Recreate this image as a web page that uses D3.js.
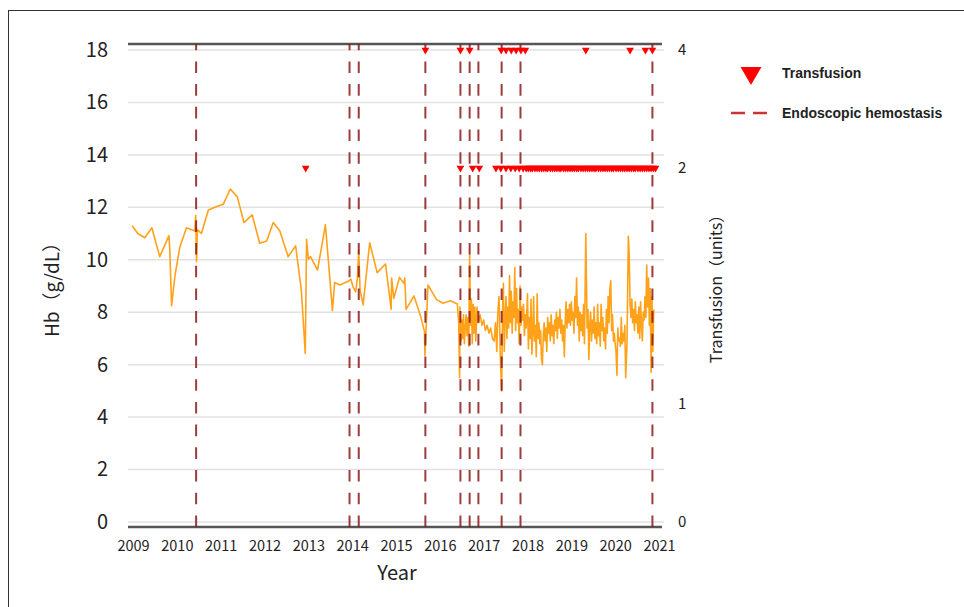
<!DOCTYPE html>
<html>
<head>
<meta charset="utf-8">
<script src="https://cdn.jsdelivr.net/npm/d3@7"></script>
<style>
  body { margin: 0; background: #fff; }
  svg text { fill: #222; }
  .axis text { font-family: "Noto Sans CJK JP", "Noto Sans", sans-serif; }
  .title { font-family: "Noto Sans CJK JP", "Noto Sans", sans-serif; }
  .legend text { font-family: "Liberation Sans", Arial, sans-serif; font-weight: bold; font-size: 14px; }
</style>
</head>
<body>
<div id="chart"></div>
<script>
// Hb measurements: [decimal year, g/dL]
var hbSeries = [
  [2008.98, 11.3], [2009.11, 11.0], [2009.27, 10.84], [2009.43, 11.22], [2009.61, 10.12],
  [2009.82, 10.92], [2009.84, 10.37], [2009.88, 8.25], [2009.96, 9.42], [2010.07, 10.5],
  [2010.22, 11.22], [2010.41, 11.1], [2010.43, 11.7], [2010.45, 9.93], [2010.47, 11.15],
  [2010.56, 11.0], [2010.72, 11.9], [2010.91, 12.03], [2011.06, 12.12], [2011.22, 12.7],
  [2011.38, 12.4], [2011.53, 11.42], [2011.72, 11.71], [2011.89, 10.63], [2012.05, 10.72],
  [2012.2, 11.42], [2012.35, 11.1], [2012.54, 10.12], [2012.71, 10.53], [2012.84, 8.85],
  [2012.93, 6.43], [2012.96, 10.78], [2013.0, 10.02], [2013.05, 10.12], [2013.21, 9.61],
  [2013.39, 11.33], [2013.55, 8.06], [2013.6, 9.13], [2013.72, 9.04], [2013.9, 9.17],
  [2013.97, 9.26], [2014.02, 8.97], [2014.08, 8.78], [2014.12, 9.3], [2014.15, 10.37],
  [2014.18, 8.85], [2014.25, 8.28], [2014.4, 10.65], [2014.57, 9.51], [2014.76, 9.84],
  [2014.89, 8.11], [2014.9, 9.3], [2014.95, 8.53], [2015.08, 9.33], [2015.18, 9.1],
  [2015.2, 9.3], [2015.23, 8.11], [2015.41, 8.62], [2015.56, 7.86], [2015.65, 7.26],
  [2015.66, 6.35], [2015.73, 9.04], [2015.92, 8.49], [2016.07, 8.34], [2016.24, 8.44],
  [2016.4, 8.31], [2016.43, 7.6], [2016.45, 5.5], [2016.46, 8.2], [2016.48, 6.9],
  [2016.5, 7.7], [2016.52, 7.0], [2016.54, 7.9], [2016.56, 6.8], [2016.58, 7.4],
  [2016.6, 7.9], [2016.62, 7.1], [2016.64, 7.8], [2016.66, 6.7], [2016.68, 10.2],
  [2016.7, 7.5], [2016.72, 8.5], [2016.74, 6.8], [2016.76, 8.3], [2016.78, 7.2],
  [2016.8, 8.2], [2016.82, 6.9], [2016.85, 8.2], [2016.88, 7.6], [2016.92, 7.9],
  [2016.96, 7.5], [2017.0, 7.7], [2017.04, 7.3], [2017.08, 7.5], [2017.12, 7.2],
  [2017.16, 7.4], [2017.2, 7.0], [2017.24, 6.9], [2017.27, 7.6], [2017.3, 6.5],
  [2017.32, 7.9], [2017.35, 8.6], [2017.38, 6.3], [2017.41, 5.0], [2017.43, 8.0],
  [2017.45, 9.1], [2017.47, 6.5], [2017.49, 7.8], [2017.51, 8.6], [2017.53, 7.0],
  [2017.55, 8.2], [2017.57, 7.4], [2017.59, 9.4], [2017.61, 7.6], [2017.63, 8.8],
  [2017.65, 7.2], [2017.67, 8.4], [2017.69, 7.8], [2017.71, 9.7], [2017.73, 7.3],
  [2017.75, 8.9], [2017.77, 7.6], [2017.79, 8.1], [2017.81, 6.8], [2017.83, 9.0],
  [2017.85, 7.5], [2017.87, 8.2], [2017.89, 7.7], [2017.91, 8.3], [2017.93, 7.1],
  [2017.95, 7.9], [2017.97, 7.4], [2018.0, 8.7], [2018.02, 6.6], [2018.04, 7.8],
  [2018.06, 7.0], [2018.08, 8.5], [2018.1, 6.4], [2018.12, 7.2], [2018.14, 8.6],
  [2018.16, 6.9], [2018.18, 7.5], [2018.2, 6.3], [2018.22, 8.7], [2018.24, 7.0],
  [2018.26, 7.6], [2018.28, 6.8], [2018.3, 7.3], [2018.32, 6.2], [2018.34, 6.0],
  [2018.36, 7.1], [2018.38, 7.6], [2018.4, 6.9], [2018.42, 7.4], [2018.44, 6.5],
  [2018.46, 7.8], [2018.48, 7.2], [2018.5, 7.6], [2018.52, 6.9], [2018.54, 7.9],
  [2018.56, 7.1], [2018.58, 7.5], [2018.6, 6.8], [2018.62, 7.7], [2018.64, 7.3],
  [2018.66, 8.0], [2018.68, 7.0], [2018.7, 7.8], [2018.72, 7.4], [2018.74, 8.1],
  [2018.76, 7.2], [2018.78, 7.7], [2018.8, 6.9], [2018.82, 7.5], [2018.84, 6.3],
  [2018.86, 7.6], [2018.88, 8.4], [2018.9, 7.4], [2018.92, 8.1], [2018.94, 7.6],
  [2018.96, 8.3], [2018.98, 7.5], [2019.0, 8.4], [2019.02, 7.7], [2019.04, 8.0],
  [2019.06, 7.2], [2019.08, 8.6], [2019.1, 7.8], [2019.12, 9.3], [2019.14, 7.5],
  [2019.16, 8.2], [2019.18, 6.9], [2019.2, 8.0], [2019.22, 7.3], [2019.24, 7.9],
  [2019.26, 7.1], [2019.28, 8.3], [2019.3, 6.8], [2019.33, 11.0], [2019.36, 7.4],
  [2019.38, 8.1], [2019.4, 6.2], [2019.42, 7.5], [2019.44, 8.0], [2019.46, 6.9],
  [2019.48, 7.7], [2019.5, 7.2], [2019.52, 8.2], [2019.54, 7.0], [2019.56, 7.6],
  [2019.58, 6.8], [2019.6, 8.3], [2019.62, 7.1], [2019.64, 7.6], [2019.66, 6.7],
  [2019.68, 8.3], [2019.7, 7.3], [2019.72, 7.8], [2019.74, 6.9], [2019.76, 7.4],
  [2019.78, 6.6], [2019.8, 8.1], [2019.82, 7.2], [2019.84, 8.6], [2019.86, 7.6],
  [2019.88, 8.9], [2019.9, 9.2], [2019.92, 7.3], [2019.94, 7.9], [2019.96, 6.9],
  [2019.98, 7.2], [2020.0, 6.8], [2020.02, 6.5], [2020.04, 5.6], [2020.06, 7.4],
  [2020.08, 6.9], [2020.1, 7.0], [2020.12, 6.7], [2020.14, 7.8], [2020.16, 6.8],
  [2020.18, 7.2], [2020.2, 6.9], [2020.22, 7.5], [2020.24, 5.5], [2020.27, 6.8],
  [2020.3, 10.9], [2020.32, 10.2], [2020.34, 8.3], [2020.36, 7.8], [2020.38, 8.5],
  [2020.4, 7.6], [2020.42, 8.1], [2020.44, 7.3], [2020.46, 8.4], [2020.48, 7.6],
  [2020.5, 7.9], [2020.52, 7.2], [2020.54, 8.2], [2020.56, 7.0], [2020.58, 8.4],
  [2020.6, 7.5], [2020.62, 6.9], [2020.64, 8.0], [2020.66, 7.7], [2020.68, 8.6],
  [2020.7, 7.8], [2020.72, 9.8], [2020.74, 8.2], [2020.76, 9.3], [2020.78, 7.5],
  [2020.8, 8.9], [2020.82, 5.7], [2020.84, 8.6], [2020.86, 6.5], [2020.88, 8.1]
];

// transfusion dates (decimal year) by number of units
var transfusion4Units = [2015.67, 2016.47, 2016.68, 2017.4, 2017.51, 2017.63, 2017.74,
  2017.85, 2017.95, 2019.33, 2020.34, 2020.69, 2020.85];
var transfusion2Units = [2012.94, 2016.47, 2016.75, 2016.9, 2017.28, 2017.39, 2017.51,
  2017.62, 2017.72, 2017.81, 2017.9, 2017.97, 2018.02, 2018.07, 2018.11, 2018.17, 2018.22,
  2018.27, 2018.32, 2018.37, 2018.42, 2018.46, 2018.52, 2018.57, 2018.62, 2018.67, 2018.72,
  2018.76, 2018.82, 2018.87, 2018.92, 2018.97, 2019.02, 2019.07, 2019.12, 2019.16, 2019.22,
  2019.27, 2019.32, 2019.37, 2019.42, 2019.47, 2019.52, 2019.56, 2019.62, 2019.67, 2019.72,
  2019.77, 2019.82, 2019.87, 2019.92, 2019.96, 2020.02, 2020.07, 2020.12, 2020.17, 2020.22,
  2020.27, 2020.32, 2020.37, 2020.42, 2020.46, 2020.52, 2020.57, 2020.62, 2020.67, 2020.72,
  2020.77, 2020.82, 2020.87, 2020.92];

// endoscopic hemostasis dates
var hemostasisYears = [2010.44, 2013.94, 2014.15, 2015.67, 2016.47, 2016.68, 2016.88,
  2017.41, 2017.84, 2020.85];

var yearTicks = [2009, 2010, 2011, 2012, 2013, 2014, 2015, 2016, 2017, 2018, 2019, 2020, 2021];
var hbTicks = [0, 2, 4, 6, 8, 10, 12, 14, 16, 18];
var unitTicks = [0, 1, 2, 4];

var legendItems = ["Transfusion", "Endoscopic hemostasis"];

var width = 964, height = 607;
var plot = {left: 128, right: 662, top: 44, bottom: 527};

var svg = d3.select("#chart").append("svg")
    .attr("width", width)
    .attr("height", height);

// outer frame
svg.append("rect")
    .attr("x", 8.5).attr("y", 10.5)
    .attr("width", 1000).attr("height", 700)
    .attr("fill", "none")
    .attr("stroke", "#333")
    .attr("stroke-width", 1);

var x = d3.scaleLinear().domain([2009, 2021]).range([133, 659]);
var y = d3.scaleLinear().domain([0, 18]).range([522, 50]);
// right axis is piecewise: 2 units sits at Hb 13.5, 1 unit at Hb 4.5
var y2 = d3.scaleLinear().domain([0, 1, 2, 4]).range([522, 404, 168, 50]);

// gridlines
svg.append("g").selectAll("line").data(hbTicks)
  .enter().append("line")
    .attr("x1", plot.left).attr("x2", plot.right + 2)
    .attr("y1", function(d) { return y(d); })
    .attr("y2", function(d) { return y(d); })
    .attr("stroke", "#e2e2e2")
    .attr("stroke-width", 1.5);

// frame lines top and bottom
svg.append("g").selectAll("line").data([plot.top, plot.bottom])
  .enter().append("line")
    .attr("x1", plot.left).attr("x2", plot.right)
    .attr("y1", function(d) { return d; })
    .attr("y2", function(d) { return d; })
    .attr("stroke", "#555")
    .attr("stroke-width", 2.5);

// Hb line
var hbLine = d3.line()
    .x(function(d) { return x(d[0]); })
    .y(function(d) { return y(d[1]); });

svg.append("path")
    .datum(hbSeries)
    .attr("d", hbLine)
    .attr("fill", "none")
    .attr("stroke", "#ffa21a")
    .attr("stroke-width", 1.6)
    .attr("stroke-linejoin", "round");

// hemostasis dashed verticals, drawn upward from the bottom
svg.append("g").selectAll("line").data(hemostasisYears)
  .enter().append("line")
    .attr("x1", function(d) { return x(d); })
    .attr("x2", function(d) { return x(d); })
    .attr("y1", plot.bottom).attr("y2", plot.top)
    .attr("stroke", "#8b1a1a")
    .attr("stroke-opacity", 0.85)
    .attr("stroke-width", 2)
    .attr("stroke-dasharray", "11.6,11.1");

// transfusion triangles
var smallTri = d3.symbol().type(d3.symbolTriangle).size(26);
var transData = transfusion4Units.map(function(t) { return {t: t, u: 4}; })
    .concat(transfusion2Units.map(function(t) { return {t: t, u: 2}; }));

svg.append("g").selectAll("path").data(transData)
  .enter().append("path")
    .attr("d", smallTri)
    .attr("fill", "#ff0000")
    .attr("transform", function(d) {
      return "translate(" + x(d.t) + "," + y2(d.u) + ") rotate(180)";
    });

// axes
var xAxis = svg.append("g")
    .attr("class", "axis")
    .attr("transform", "translate(0," + plot.bottom + ")")
    .call(d3.axisBottom(x).tickValues(yearTicks).tickFormat(d3.format("d")).tickSize(0).tickPadding(14));
xAxis.select(".domain").remove();
xAxis.selectAll("text").attr("font-size", 14.5);

var yAxis = svg.append("g")
    .attr("class", "axis")
    .attr("transform", "translate(" + plot.left + ",0)")
    .call(d3.axisLeft(y).tickValues(hbTicks).tickSize(0).tickPadding(20));
yAxis.select(".domain").remove();
yAxis.selectAll("text").attr("font-size", 20);

var y2Axis = svg.append("g")
    .attr("class", "axis")
    .attr("transform", "translate(" + plot.right + ",0)")
    .call(d3.axisRight(y2).tickValues(unitTicks).tickFormat(d3.format("d")).tickSize(0).tickPadding(16));
y2Axis.select(".domain").remove();
y2Axis.selectAll("text").attr("font-size", 15);

// titles
svg.append("text")
    .attr("class", "title")
    .attr("x", 397).attr("y", 580)
    .attr("text-anchor", "middle")
    .attr("font-size", 20)
    .text("Year");

svg.append("text")
    .attr("class", "title")
    .attr("transform", "translate(59,285) rotate(-90)")
    .attr("text-anchor", "middle")
    .attr("font-size", 19)
    .text("Hb（g/dL）");

svg.append("text")
    .attr("class", "title")
    .attr("transform", "translate(722,285) rotate(-90)")
    .attr("text-anchor", "middle")
    .attr("font-size", 16)
    .text("Transfusion（units）");

// legend
var legend = svg.append("g").attr("class", "legend");
legend.append("path")
    .attr("d", d3.symbol().type(d3.symbolTriangle).size(190))
    .attr("fill", "#ff0000")
    .attr("transform", "translate(751,73) rotate(180)");
legend.append("line")
    .attr("x1", 731).attr("x2", 768)
    .attr("y1", 113).attr("y2", 113)
    .attr("stroke", "#cc3333")
    .attr("stroke-width", 2.5)
    .attr("stroke-dasharray", "14,8");
legend.selectAll("text").data(legendItems)
  .enter().append("text")
    .attr("x", 782)
    .attr("y", function(d, i) { return 73 + i * 40; })
    .attr("dy", "0.35em")
    .text(function(d) { return d; });
</script>
</body>
</html>
